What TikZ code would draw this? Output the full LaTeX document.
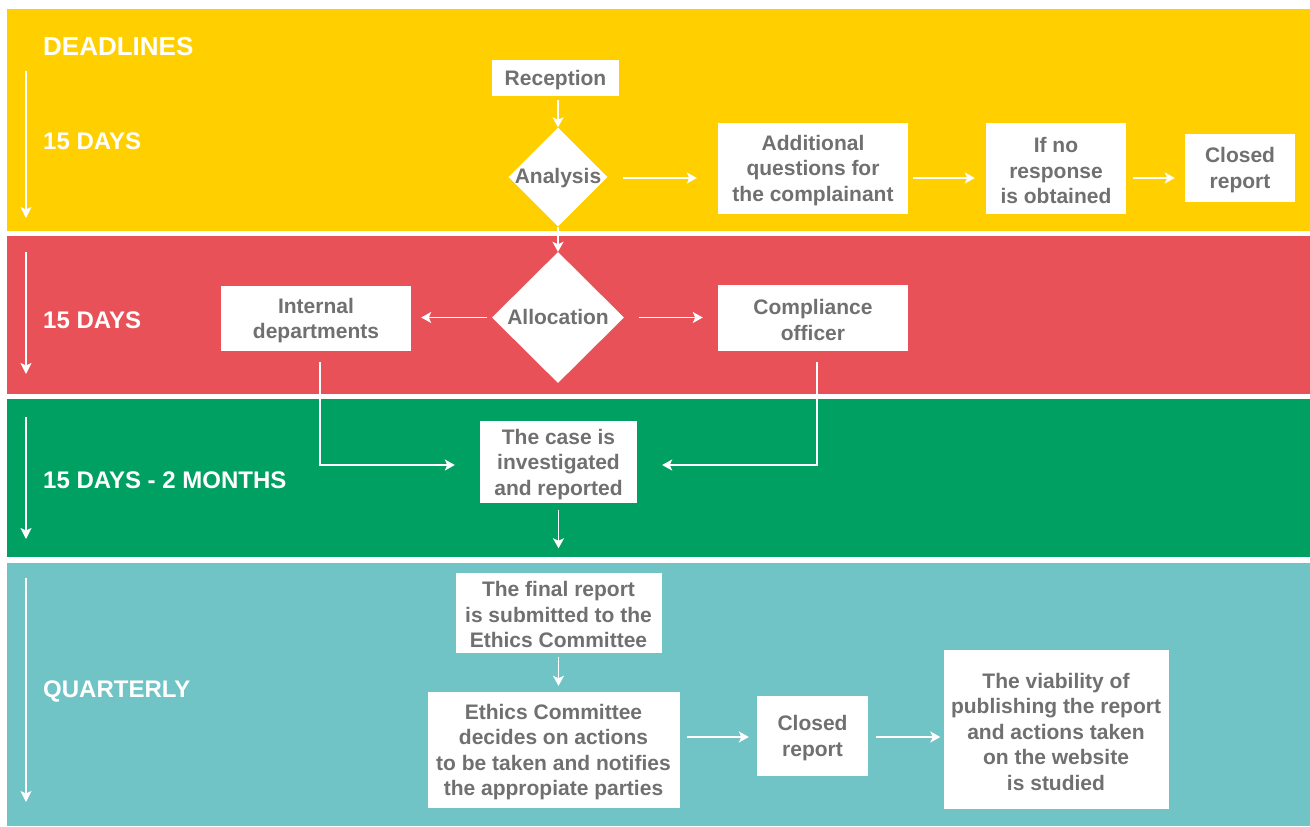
\documentclass[tikz,border=0pt]{standalone}
\usepackage{fontspec}
\setmainfont{Liberation Sans}
\usetikzlibrary{shapes.geometric,arrows.meta,positioning}
\definecolor{bandY}{RGB}{255,207,0}
\definecolor{bandR}{RGB}{233,81,88}
\definecolor{bandG}{RGB}{0,160,98}
\definecolor{bandT}{RGB}{113,196,198}
\definecolor{txtgray}{RGB}{112,112,112}
\newcommand\myTopStrut{\rule{0pt}{19.5pt}}
\tikzset{
  boxtext/.style={font=\bfseries\fontsize{21}{25.5}\selectfont, text=txtgray},
  wbox/.style={boxtext, fill=white, draw=none, align=center, inner sep=0pt},
  wdia/.style={diamond, fill=white, draw=none, inner sep=0pt, aspect=1},
  lbl/.style={font=\bfseries\fontsize{24}{28}\selectfont, text=white, anchor=west, inner sep=0pt},
  arr/.style={draw=white, line width=1.8pt, -{Stealth[length=10pt,width=11pt,inset=2.5pt]}},
  tarr/.style={draw=white, line width=1.6pt, -{Stealth[length=11pt,width=11pt,inset=2.5pt]}},
}
\begin{document}
\begin{tikzpicture}[x=1pt,y=-1pt]
\useasboundingbox[fill=white] (0,0) rectangle (1310,827);
% bands
\fill[bandY] (7,9) rectangle (1310,231);
\fill[bandR] (7,236) rectangle (1310,394);
\fill[bandG] (7,399) rectangle (1310,557);
\fill[bandT] (7,563) rectangle (1310,826);
% timeline arrows
\coordinate (t1a) at (26,71);  \coordinate (t1b) at (26,218);
\coordinate (t2a) at (26,252); \coordinate (t2b) at (26,374);
\coordinate (t3a) at (26,417); \coordinate (t3b) at (26,539);
\coordinate (t4a) at (26,578); \coordinate (t4b) at (26,802);
\draw[tarr] (t1a) -- (t1b);
\draw[tarr] (t2a) -- (t2b);
\draw[tarr] (t3a) -- (t3b);
\draw[tarr] (t4a) -- (t4b);
% labels
\node[lbl, font=\bfseries\fontsize{26}{30}\selectfont] (lDead) at (43,47) {DEADLINES};
\node[lbl] (l1) at (43,141) {15 DAYS};
\node[lbl] (l2) at (43,320) {15 DAYS};
\node[lbl] (l3) at (43,480) {15 DAYS - 2 MONTHS};
\node[lbl] (l4) at (43,691) {QUARTERLY};
% nodes
\node[wbox, minimum width=127, minimum height=36] (rec) at (555.5,78) {\myTopStrut Reception};
\node[wdia, minimum width=99, minimum height=99, label={[boxtext, yshift=-1]center:Analysis}] (ana) at (558,177) {};
\node[wbox, minimum width=190, minimum height=91] (add) at (813,168) {\myTopStrut Additional\\questions for\\the complainant};
\node[wbox, minimum width=140, minimum height=91] (ifno) at (1056,168.5) {\myTopStrut If no\\response\\is obtained};
\node[wbox, minimum width=110, minimum height=68] (cl1) at (1240,168) {\myTopStrut Closed\\report};
\node[wdia, minimum width=132, minimum height=131, label={[boxtext, yshift=1]center:Allocation}] (alloc) at (558,317.5) {};
\node[wbox, minimum width=190, minimum height=65] (intd) at (316,318.5) {\myTopStrut Internal\\departments};
\node[wbox, minimum width=190, minimum height=66] (comp) at (813,318) {\myTopStrut Compliance\\officer};
\node[wbox, minimum width=157, minimum height=82] (case) at (558.5,462) {\myTopStrut The case is\\investigated\\and reported};
\node[wbox, minimum width=206, minimum height=80] (final) at (558.5,612.5) {\myTopStrut The final report\\is submitted to the\\Ethics Committee};
\node[wbox, minimum width=252, minimum height=116] (eth) at (553.5,750) {\myTopStrut Ethics Committee\\decides on actions\\to be taken and notifies\\the appropiate parties};
\node[wbox, minimum width=111, minimum height=80] (cl2) at (812.5,736) {\myTopStrut Closed\\report};
\node[wbox, minimum width=225, minimum height=159] (viab) at (1056,729.5) {\myTopStrut The viability of\\publishing the report\\and actions taken\\on the website\\is studied};
% connectors
\draw[arr] ([yshift=-4]rec.south -| ana.north) -- (ana.north);
\draw[arr] ([xshift=15,yshift=-1]ana.east) -- ([xshift=-21,yshift=-1]ana.east -| add.west);
\draw[arr] ([xshift=5,yshift=-10]add.east) -- ([xshift=-11,yshift=-10]add.east -| ifno.west);
\draw[arr] ([xshift=7,yshift=-9.5]ifno.east) -- ([xshift=-10,yshift=-9.5]ifno.east -| cl1.west);
\draw[arr] (ana.south) -- (alloc.north);
\draw[arr] ([xshift=-5]alloc.west) -- ([xshift=10]alloc.west -| intd.east);
\draw[arr] ([xshift=15]alloc.east) -- ([xshift=-15]alloc.east -| comp.west);
\draw[arr] ([xshift=4,yshift=-11]intd.south) |- ([xshift=-25,yshift=-3]case.west);
\draw[arr] ([xshift=4,yshift=-11]comp.south) |- ([xshift=25,yshift=-3]case.east);
\draw[arr] ([yshift=-7]case.south) -- ([yshift=24]final.north);
\draw[arr] ([yshift=-4]final.south) -- ([yshift=6]final.south |- eth.north);
\draw[arr] ([xshift=7,yshift=-1]eth.east |- cl2.west) -- ([xshift=-8,yshift=-1]cl2.west);
\draw[arr] ([xshift=8,yshift=-1]cl2.east) -- ([xshift=-3,yshift=-1]cl2.east -| viab.west);
\end{tikzpicture}
\end{document}
